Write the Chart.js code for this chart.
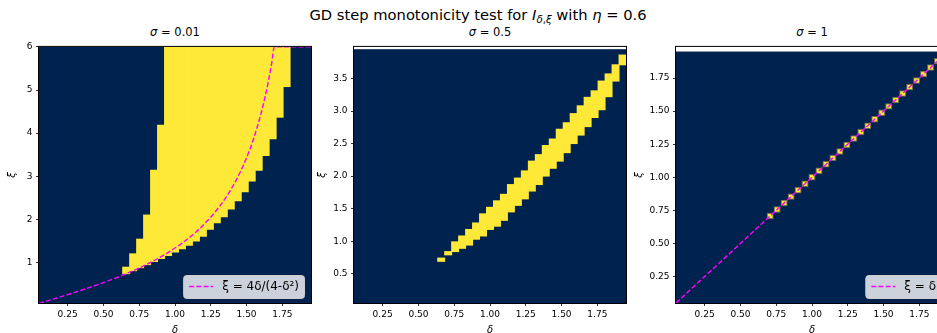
<!DOCTYPE html>
<html>
<head>
<meta charset="utf-8">
<script src="https://cdn.jsdelivr.net/npm/chart.js@4.4.1/dist/chart.umd.min.js"></script>
<style>
  html, body { margin: 0; padding: 0; background: #fff; overflow: hidden; }
  #figure { position: relative; width: 937px; height: 333px; overflow: hidden; font-family: "DejaVu Sans", sans-serif; color: #000; }
  .suptitle { position: absolute; top: 8px; left: 478px; transform: translateX(-50%); font-size: 14.7px; line-height: 1; white-space: nowrap; }
  .subtitle { position: absolute; top: 27px; transform: translateX(-50%); font-size: 11.5px; line-height: 1; white-space: nowrap; }
  sub { font-size: 70%; vertical-align: -0.3em; line-height: 0; }
  canvas { position: absolute; }
</style>
</head>
<body>
<div id="figure"></div>
<script>
const NAVY = '#00224e';
const YELLOW = '#fee838';
const MAGENTA = '#ff00ff';
const PLOT_W = 272;

// δ values of the grid columns, shared by the three maps
const deltas = [0.05, 0.10, 0.15, 0.20, 0.25, 0.30, 0.35, 0.40, 0.45, 0.50,
  0.55, 0.60, 0.65, 0.70, 0.75, 0.80, 0.85, 0.90, 0.95, 1.00,
  1.05, 1.10, 1.15, 1.20, 1.25, 1.30, 1.35, 1.40, 1.45, 1.50,
  1.55, 1.60, 1.65, 1.70, 1.75, 1.80, 1.85, 1.90, 1.95];

// monotone region per column (lowest / highest ξ), null = none
const sigma001Low = [null, null, null, null, null, null, null, null, null, null, null, null,
  0.74, 0.81, 0.88, 0.95, 1.02, 1.09, 1.16, 1.24, 1.32, 1.40, 1.50, 1.61,
  1.77, 1.92, 2.06, 2.24, 2.43, 2.64, 2.89, 3.14, 3.48, 3.87, 4.37, 5.08,
  null, null, null];
const sigma001High = [null, null, null, null, null, null, null, null, null, null, null, null,
  0.89, 1.20, 1.54, 2.10, 3.14, 4.18, 6, 6, 6, 6, 6, 6,
  6, 6, 6, 6, 6, 6, 6, 6, 6, 6, 6, 6,
  null, null, null];

const sigma05Low = [null, null, null, null, null, null, null, null, null, null, null, null,
  0.69, 0.79, 0.84, 0.89, 0.94, 1.03, 1.08, 1.18, 1.23, 1.32, 1.45, 1.55,
  1.65, 1.77, 1.87, 2.00, 2.12, 2.23, 2.36, 2.50, 2.63, 2.76, 2.90, 3.02,
  3.22, 3.46, 3.71];
const sigma05High = [null, null, null, null, null, null, null, null, null, null, null, null,
  0.74, 0.84, 0.99, 1.08, 1.18, 1.28, 1.42, 1.52, 1.62, 1.72, 1.87, 1.97,
  2.08, 2.23, 2.33, 2.47, 2.57, 2.72, 2.82, 2.96, 3.08, 3.21, 3.31, 3.46,
  3.57, 3.71, 3.86];

const sigma1Low = [null, null, null, null, null, null, null, null, null, null, null, null, null,
  0.683, 0.732, 0.781, 0.830, 0.878, 0.927, 0.976, 1.024, 1.073, 1.122,
  1.171, 1.219, 1.268, 1.317, 1.365, 1.414, 1.463, 1.512, 1.560, 1.609,
  1.658, 1.706, 1.755, 1.804, 1.853, 1.901];
const sigma1High = [null, null, null, null, null, null, null, null, null, null, null, null, null,
  0.732, 0.781, 0.830, 0.878, 0.927, 0.976, 1.024, 1.073, 1.122, 1.171,
  1.219, 1.268, 1.317, 1.365, 1.414, 1.463, 1.512, 1.560, 1.609, 1.658,
  1.706, 1.755, 1.804, 1.853, 1.901, 1.950];

// ξ = 4δ/(4-δ²), capped at the top of the map
const boundDelta = [0.05, 0.15, 0.25, 0.35, 0.45, 0.55, 0.65, 0.75, 0.85, 0.95,
  1.05, 1.15, 1.25, 1.30, 1.35, 1.40, 1.45, 1.50, 1.55, 1.60,
  1.625, 1.65, 1.675, 1.694, 1.95];
const boundXi = [0.050, 0.151, 0.254, 0.361, 0.474, 0.595, 0.727, 0.873, 1.037, 1.227,
  1.450, 1.718, 2.051, 2.251, 2.480, 2.745, 3.057, 3.429, 3.881, 4.444,
  4.782, 5.166, 5.610, 6.0, 6.0];

// ξ = δ
const diagDelta = [0.05, 1.95];
const diagXi = [0.05, 1.95];

const panels = [
  { id: 'map001', sigma: '0.01', left: 0, axisWidth: 39, low: sigma001Low, high: sigma001High,
    yMin: 0.06, yMax: 6, xiTop: 6, yStep: 1, yDigits: 0,
    curve: { xs: boundDelta, ys: boundXi, label: 'ξ = 4δ/(4-δ²)' } },
  { id: 'map05', sigma: '0.5', left: 310, axisWidth: 44, low: sigma05Low, high: sigma05High,
    yMin: 0.05, yMax: 3.985, xiTop: 3.95, yStep: 0.5, yDigits: 1, curve: null },
  { id: 'map1', sigma: '1', left: 627, axisWidth: 49, low: sigma1Low, high: sigma1High,
    yMin: 0.05, yMax: 1.985, xiTop: 1.95, yStep: 0.25, yDigits: 2, cellEdge: true,
    curve: { xs: diagDelta, ys: diagXi, label: 'ξ = δ' } }
];

const tickFont = { family: 'DejaVu Sans', size: 9 };
const labelFont = { family: 'DejaVu Sans', size: 10, style: 'italic' };

// navy map background, matplotlib-style legend and the axes frame
const mapDecor = {
  id: 'mapDecor',
  beforeDatasetsDraw(chart, args, opts) {
    const { ctx, chartArea, scales: { y } } = chart;
    const top = y.getPixelForValue(opts.xiTop);
    ctx.save();
    ctx.fillStyle = NAVY;
    ctx.fillRect(chartArea.left, top, chartArea.width, chartArea.bottom - top);
    ctx.restore();
  },
  afterDatasetsDraw(chart, args, opts) {
    if (!opts.legend) return;
    const { ctx, chartArea } = chart;
    ctx.save();
    ctx.font = '12px "DejaVu Sans"';
    const tw = ctx.measureText(opts.legend).width;
    const w = 6 + 24 + 9 + tw + 5, h = 23;
    const x0 = chartArea.right - 7 - w;
    const y0 = chartArea.bottom - 5 - h;
    ctx.beginPath();
    ctx.roundRect(x0 + 0.5, y0 + 0.5, w, h, 3);
    ctx.fillStyle = 'rgba(255,255,255,0.8)';
    ctx.fill();
    ctx.strokeStyle = '#cccccc';
    ctx.lineWidth = 1;
    ctx.stroke();
    ctx.beginPath();
    ctx.setLineDash([5, 2.2]);
    ctx.strokeStyle = MAGENTA;
    ctx.lineWidth = 1.4;
    ctx.moveTo(x0 + 6, y0 + h / 2);
    ctx.lineTo(x0 + 30, y0 + h / 2);
    ctx.stroke();
    ctx.setLineDash([]);
    ctx.fillStyle = '#000';
    ctx.textBaseline = 'middle';
    ctx.fillText(opts.legend, x0 + 39, y0 + h / 2 + 0.5);
    ctx.restore();
  },
  afterDraw(chart) {
    const { ctx, chartArea } = chart;
    ctx.save();
    ctx.strokeStyle = '#000';
    ctx.lineWidth = 1;
    ctx.strokeRect(chartArea.left - 0.5, chartArea.top - 0.5, chartArea.width + 1, chartArea.height + 1);
    ctx.restore();
  }
};

function renderPanel(panel) {
  const cells = panel.low.map((lo, i) => (lo === null ? null : [lo, panel.high[i]]));
  const datasets = [{
    type: 'bar',
    data: cells,
    xAxisID: 'xc',
    yAxisID: 'y',
    backgroundColor: YELLOW,
    borderColor: panel.cellEdge ? '#6e6c4a' : YELLOW,
    borderWidth: panel.cellEdge ? 1 : 0,
    borderSkipped: false,
    // slight overlap so neighbouring columns leave no seam
    inflateAmount: panel.cellEdge ? 0 : 0.5,
    grouped: false,
    barPercentage: 1,
    categoryPercentage: 1,
    order: 2
  }];
  if (panel.curve) {
    datasets.push({
      type: 'line',
      data: panel.curve.xs.map((d, i) => ({ x: d, y: panel.curve.ys[i] })),
      xAxisID: 'x',
      yAxisID: 'y',
      borderColor: MAGENTA,
      borderWidth: 1.4,
      borderDash: [5, 2.2],
      pointRadius: 0,
      cubicInterpolationMode: 'monotone',
      clip: 0,
      order: 1
    });
  }

  return new Chart(document.getElementById(panel.id), {
    type: 'bar',
    data: { labels: deltas, datasets },
    options: {
      responsive: false,
      animation: false,
      events: [],
      layout: { padding: { top: 5, right: 5, left: 0, bottom: 0 } },
      plugins: {
        legend: { display: false },
        tooltip: { enabled: false },
        mapDecor: { xiTop: panel.xiTop, legend: panel.curve ? panel.curve.label : null }
      },
      scales: {
        x: {
          type: 'linear',
          position: 'bottom',
          min: 0.05,
          max: 1.95,
          offset: false,
          afterFit: s => { s.height = 42; },
          grid: { offset: false, drawOnChartArea: false, tickLength: 3, color: '#000', lineWidth: 0.8 },
          border: { display: false },
          ticks: {
            stepSize: 0.25, includeBounds: false, autoSkip: false, maxRotation: 0,
            padding: 3, color: '#000', font: tickFont,
            callback: v => v.toFixed(2)
          },
          title: { display: true, text: 'δ', color: '#000', font: labelFont, padding: { top: 0, bottom: 8.5 } }
        },
        xc: { type: 'category', display: false, offset: true, grid: { offset: true } },
        y: {
          type: 'linear',
          position: 'left',
          min: panel.yMin,
          max: panel.yMax,
          beginAtZero: false,
          afterFit: s => { s.width = panel.axisWidth; },
          grid: { drawOnChartArea: false, tickLength: 3, color: '#000', lineWidth: 0.8 },
          border: { display: false },
          ticks: {
            stepSize: panel.yStep, includeBounds: false, autoSkip: false,
            padding: 3.5, color: '#000', font: tickFont,
            callback: v => v.toFixed(panel.yDigits)
          },
          title: { display: true, text: 'ξ', color: '#000', font: labelFont, padding: { top: 6.3, bottom: 0 } }
        }
      }
    },
    plugins: [mapDecor]
  });
}

const figure = document.getElementById('figure');
figure.innerHTML = `
  <div class="suptitle">GD step monotonicity test for <i>I</i><sub><i>δ</i>,<i>ξ</i></sub> with <i>η</i> = 0.6</div>
  ${panels.map(p => `
    <div class="subtitle" style="left:${p.left + p.axisWidth + PLOT_W / 2}px"><i>σ</i> = ${p.sigma}</div>
    <canvas id="${p.id}" width="${p.axisWidth + PLOT_W + 5}" height="307" style="left:${p.left}px;top:38px"></canvas>
  `).join('')}
`;
panels.forEach(renderPanel);
</script>
</body>
</html>
